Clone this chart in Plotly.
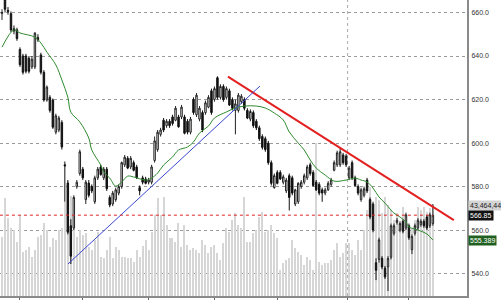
import plotly.graph_objects as go

opens = [659.5,667,661,659.5,652.5,652,643,640,640,639,635,635,648.5,640.5,632.5,619.8,621,619.8,605,606,
         609.5,590,581.6,562,561,580,586,588,574,581.6,580,573,584,589,584,588,575,572,574,577,
         580,590,593,589,591,589,579.5,584,583.5,582,582,592,597,604,610.5,608,610,612,610.5,612,
         612,612,610,605,620,613,611,614,614,616.5,624,620,630,621,626,621,624,620,615,615,
         619,620,615,611,614,610,607,603,602,600,591,579.5,586.5,586.5,582,578,585,584,572,573,
         580,582,584,590,586.5,582,581,578.5,577,578.5,581,587.5,590,590,594.5,594,584,591,584,580,
         574,576,583,574,572,545,546.5,547,542.5,543,547.5,558.5,563.5,560,564,561,562,551,558.5,561,
         562.5,564,566,562,563]
highs = [661.5,669,662.5,660.5,654,653,644,641,641,640,640,651,650,641.5,633.5,626.5,622,620.5,613.5,612.5,
         610.5,591.5,583,565,576,583,597,589,583,583,581,585,589,590,589,589,576,578,579.5,581,
         591.5,594.5,594,594,592,590,580.5,585,584.5,584,590,603,606,607,611.5,611,611,613,617,613,
         617.5,613,611,612,621,623,617,615,619.5,622,625,626,630.7,627,627,626,625,621,620,623,
         622.5,621,616,615.5,615,611,608,604,603,601,592,586,587.5,587.5,585.5,584,586,585,579,582,
         583,586,590,591,587.5,583,582,579.5,579.5,582.5,584,592,596.5,598,595.5,595,589.5,592,585,581,
         579.5,580,584,575,573,547,556.5,548,543.5,548,563,563,565.5,564,565,568,563,558,563,565.5,
         565,565,567,568,572]
lows = [656.6,660,659,651,650,647,635,631.5,632,632,634,634,646.5,631.5,619,619,614,606.5,604,605,
        597,573,558,544.4,560,579,585,583,572,575,577,572,583,585,583,578,570.5,571,573,576,
        579,589,588,588,587,583.5,576,581,581,581,581,591,596,603,605,607,607,608,610,607,
        611,604,604,604,613,612,610,605,613,616,613,619,620,620,619,620,617,615,604,614,
        618,615,611,610,607,606,601,597,596,590,580.5,579,581,583,581,577,569,576,571,572,
        579,581,583,585,580,578,576,573,576,578,580,587,589,589,590,589,583,583,580,576,
        573,575,577,565,559,537,545,542,537.5,532,546.5,557.5,562.5,559,558.5,560,555.5,549,557.5,560,
        561.5,561,560,561,562]
closes = [660,661.5,660.5,652,651.5,648,636,632.5,633,633,638.5,650.5,647.5,632.5,619.8,625.7,615,607.3,612.5,611.5,
          598.2,589.5,559,548,575,582,596,584,582,576,578,584,588,585.5,588,579,571.5,577,578.5,580,
          591,593.5,588.5,593,587.5,584,578,582,581.5,583,589,601,605,606,606,610,608,609,616,607.5,
          616.5,604.5,605,611,614,622,616,606,618.5,621,614,625,621,626,620,625,617.5,616,618,622,
          621.5,616,611.5,614.5,608,607,602,598,597,591,581.5,585,581.5,583.5,584.5,583,575,577,578.5,581.5,
          582,585,589,586,580.5,578.5,577,577,578.5,581.5,583,591,595.5,596,591,590,588.5,584,580.5,577,
          578.5,579,578,566,560,541.5,555.5,543,538.5,547,562,562,564.5,563,559.5,567,556.5,557,562,564.5,
          564,562,561,567,566.85]
volumes_m = [28.4,46.9,37.3,32.5,31.6,26,38.8,21.2,22,23.6,18.8,22,28.4,29.2,34.9,31.6,23.6,27.8,26.8,31.6,
             32.5,45,55,48,36.4,28.4,31.6,29.2,30,23.6,22,26.8,30.8,18.8,18.2,22,28.4,18.2,23.6,22,
             18.8,18.8,18.2,18.2,16.4,22,18.8,24,26.8,22,30.8,38.8,46.7,38.8,47.5,34,27.6,27.6,26,34.8,
             23.6,34,24.4,22,22.8,22,20.4,26.8,24.4,20.4,23.6,24.4,20.4,17.2,25.3,32.4,30.8,36.4,39.6,34,
             32.4,47.5,26,26,30,31.6,37.9,40.3,30.8,31.6,34,30,27.6,12.4,15.6,17.2,18,26.8,22.8,21.2,
             19.6,14.8,18.8,17.2,12.4,73,16.4,14.8,15.6,15.6,17.2,22,25.2,18.8,20.4,25.2,25.2,22,19.6,26.8,
             22,31.6,41.1,52.3,37.9,47.5,45.9,39.6,47.5,43.5,41.1,36.4,39.6,34.8,42.7,37.9,31.6,32.4,36.4,42.7,
             41.1,42.7,40,42,43.46]

ma_idx = [0,4,6,11,13,15,18,20,22,23,26,29,30,33,34,36,38,40,42,44,48,50,52,54,57,59,62,64,66,69,71,75,78,81,85,88,91,94,96,99,101,103,105,108,111,115,118,120,122,124,126,128,130,131,133,135,136,138,140,142,144]
ma_val = [644.1,652.0,650.6,648.7,646.0,641.8,635.9,629.0,621.1,614.2,609.7,602.3,596.8,589.9,586.7,583.9,580.2,582.1,584.8,584.4,583.0,583.9,586.2,589.9,593.6,596.8,598.2,600.5,604.6,607.8,611.5,614.3,616.1,617.0,617.0,616.1,613.8,610.6,605.1,600.0,596.8,592.2,588.5,585.3,582.5,583.0,583.9,583.0,582.1,579.3,575.2,572.4,569.2,567.8,566.0,563.7,561.4,560.5,559.5,558.2,555.4]

month_idx = [6, 27, 49, 71, 92, 115.5, 136]
month_txt = ["August", "September", "October", "November", "December", "2016", "February"]
price_ticks = [540, 560, 580, 600, 620, 640, 660]

red_trend_x = [75.5, 151]
red_trend_y = [630.5, 564.6]
blue_trend_x = [22.05, 86.2]
blue_trend_y = [544.4, 626.2]
last_close = 566.85
last_ma = 555.389
last_volume = 43464448
year_break = 115.5

n = len(closes)
idx = list(range(n))
volumes = [v * 1e6 for v in volumes_m]

fig = go.Figure()
fig.add_trace(go.Bar(x=idx, y=volumes, marker_color="#d6d6d6", marker_line_width=0,
                     width=0.38, yaxis="y", xaxis="x", showlegend=False))
fig.add_trace(go.Candlestick(x=idx, open=opens, high=highs, low=lows, close=closes,
                             yaxis="y2", xaxis="x", showlegend=False,
                             increasing=dict(line=dict(color="#222222", width=1), fillcolor="white"),
                             decreasing=dict(line=dict(color="#111111", width=1), fillcolor="#111111")))
fig.add_trace(go.Scatter(x=ma_idx, y=ma_val, mode="lines", yaxis="y2",
                         line=dict(color="#2f8a2f", width=1, shape="spline", smoothing=1.0),
                         showlegend=False))

shapes = [
    dict(type="line", xref="x", yref="y2", x0=red_trend_x[0], x1=red_trend_x[1],
         y0=red_trend_y[0], y1=red_trend_y[1], line=dict(color="#e32020", width=2)),
    dict(type="line", xref="x", yref="y2", x0=blue_trend_x[0], x1=blue_trend_x[1],
         y0=blue_trend_y[0], y1=blue_trend_y[1], line=dict(color="#3a48d0", width=1)),
    dict(type="line", xref="x", yref="y2", x0=-0.7, x1=n - 1,
         y0=last_close, y1=last_close, line=dict(color="#e02020", width=1, dash="dot")),
    dict(type="line", xref="x", yref="paper", x0=year_break, x1=year_break, y0=0, y1=1,
         line=dict(color="#aaaaaa", width=1, dash="dot"), layer="below"),
]

lab_font = "Liberation Sans"
annotations = []
annotations.append(dict(x=1, y=last_volume, xref="paper", yref="y", text="{:,}".format(last_volume),
                        showarrow=False, xanchor="left", yanchor="middle", xshift=1,
                        bgcolor="#d4d4d4", borderpad=1,
                        font=dict(size=7, color="#222222", family=lab_font)))
annotations.append(dict(x=1, y=last_close, xref="paper", yref="y2", text="{:.2f}".format(last_close),
                        showarrow=False, xanchor="left", yanchor="middle", xshift=1,
                        bgcolor="#111111", borderpad=1,
                        font=dict(size=7, color="white", family=lab_font)))
annotations.append(dict(x=1, y=last_ma, xref="paper", yref="y2", text="{:.3f}".format(last_ma),
                        showarrow=False, xanchor="left", yanchor="middle", xshift=1,
                        bgcolor="#1f5f1f", borderpad=1,
                        font=dict(size=7, color="white", family=lab_font)))

fig.update_layout(
    width=501, height=300, autosize=False,
    margin=dict(l=0, r=34, t=0, b=4),
    paper_bgcolor="white", plot_bgcolor="white",
    bargap=0,
    xaxis=dict(range=[-0.67, 155.4], showgrid=False, zeroline=False, automargin=False,
               showline=True, linecolor="#8a8a8a", linewidth=2,
               ticks="outside", tickvals=month_idx, ticktext=month_txt, ticklen=4,
               tickcolor="#666666", showticklabels=True,
               ticklabelshift=15, ticklabelstandoff=-5,
               tickfont=dict(size=7, color="#444444", family=lab_font),
               rangeslider=dict(visible=False), fixedrange=True),
    yaxis=dict(range=[0, 141.6e6], visible=False, showgrid=False, fixedrange=True),
    yaxis2=dict(range=[529.7, 665.75], overlaying="y", side="right", automargin=False,
                tickvals=price_ticks, tickformat=".1f",
                showgrid=True, gridcolor="#9a9a9a", griddash="dot", gridwidth=1,
                zeroline=False, showline=True, linecolor="#8a8a8a", linewidth=2,
                ticks="", ticklabelstandoff=1,
                tickfont=dict(size=7, color="#333333", family=lab_font),
                fixedrange=True),
    shapes=shapes,
    annotations=annotations,
    font=dict(family=lab_font, size=7),
)

fig.write_html("out.html")
